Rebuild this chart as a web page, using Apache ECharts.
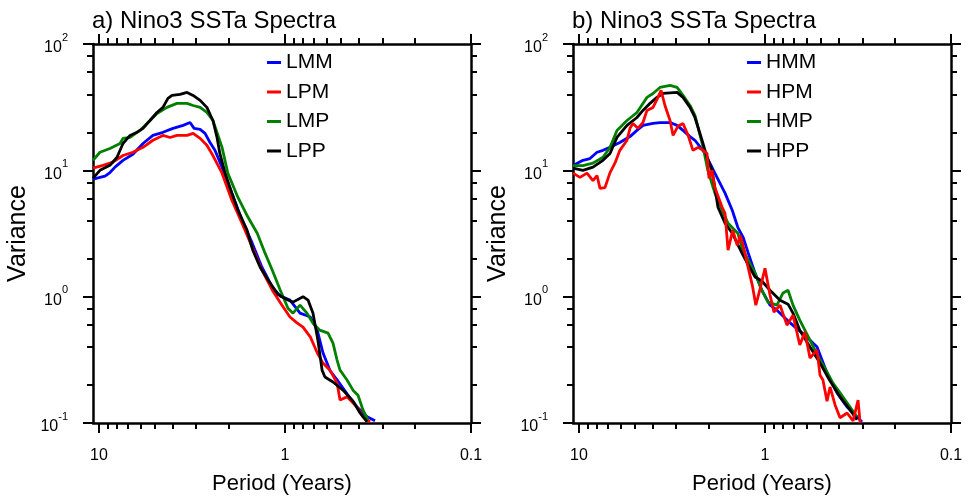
<!DOCTYPE html>
<html><head><meta charset="utf-8">
<script src="https://cdn.jsdelivr.net/npm/echarts@6/dist/echarts.min.js"></script>
<style>html,body{margin:0;padding:0;background:#fff}#c{width:966px;height:497px}</style>
</head><body><div id="c"></div>
<script>
// ---- data: [period (years), variance] ----
const LMM = [[10.77,8.5],[9.88,8.8],[9.28,9.0],[8.73,9.6],[8.2,10.6],[7.43,12.0],[6.57,13.4],[5.8,16.3],[5.13,18.9],[4.53,20.0],[4.0,21.5],[3.53,22.7],[3.24,23.9],[3.08,21.5],[2.86,21.1],[2.69,19.6],[2.53,16.6],[2.38,14.4],[2.18,10.6],[1.93,6.6],[1.7,4.0],[1.5,2.65],[1.33,1.71],[1.17,1.19],[1.06,1.01],[0.94,0.94],[0.83,0.74],[0.73,0.69],[0.67,0.54],[0.625,0.36],[0.573,0.26],[0.525,0.22],[0.464,0.17],[0.41,0.134],[0.362,0.112],[0.328,0.104]];
const LPM = [[10.77,10.4],[9.52,10.95],[8.41,11.6],[7.43,13.1],[6.57,13.9],[5.8,15.2],[5.13,17.3],[4.53,18.9],[4.15,18.2],[3.81,18.9],[3.36,18.9],[3.12,19.6],[2.86,17.9],[2.63,15.8],[2.44,13.1],[2.18,9.5],[1.93,5.8],[1.7,3.8],[1.5,2.46],[1.33,1.62],[1.17,1.125],[1.04,0.86],[0.94,0.69],[0.862,0.62],[0.8,0.574],[0.73,0.478],[0.67,0.358],[0.625,0.298],[0.573,0.262],[0.525,0.207],[0.506,0.152],[0.464,0.161],[0.41,0.134],[0.381,0.112],[0.349,0.102]];
const LMP = [[10.77,12.0],[9.88,13.9],[8.73,14.9],[7.71,16.3],[7.43,17.9],[6.81,18.2],[6.03,20.7],[5.32,24.8],[4.88,28.2],[4.31,31.5],[3.81,33.9],[3.36,33.9],[3.12,32.6],[2.86,31.5],[2.63,28.7],[2.44,24.8],[2.18,15.2],[2.03,9.5],[1.79,6.1],[1.58,4.25],[1.41,3.18],[1.28,2.21],[1.17,1.62],[1.06,1.125],[0.964,0.81],[0.906,0.74],[0.83,0.857],[0.762,0.74],[0.707,0.617],[0.65,0.543],[0.587,0.515],[0.552,0.429],[0.525,0.315],[0.506,0.262],[0.464,0.219],[0.431,0.182],[0.405,0.166],[0.381,0.127],[0.358,0.106]];
const LPP = [[10.77,8.65],[9.88,10.0],[8.73,10.95],[8.0,12.7],[7.43,16.3],[6.81,18.9],[6.25,20.0],[5.8,21.5],[5.32,24.8],[4.88,28.7],[4.53,31.5],[4.26,37.1],[4.05,39.2],[3.67,39.9],[3.36,41.4],[3.12,39.2],[2.86,35.8],[2.63,31.5],[2.44,24.8],[2.32,18.2],[2.24,13.6],[2.1,9.5],[1.93,6.6],[1.79,4.83],[1.6,3.36],[1.49,2.33],[1.36,1.71],[1.23,1.35],[1.09,1.04],[0.964,0.94],[0.906,0.905],[0.8,1.0],[0.752,0.94],[0.707,0.74],[0.665,0.45],[0.632,0.262],[0.61,0.231],[0.552,0.211],[0.488,0.182],[0.431,0.149],[0.395,0.12],[0.362,0.102]];

const HMM = [[10.77,10.9],[9.52,12.0],[8.73,12.4],[8.0,13.9],[7.43,14.4],[6.81,15.2],[6.03,16.6],[5.32,18.5],[4.88,20.7],[4.53,22.7],[4.0,23.5],[3.67,23.9],[3.24,23.9],[2.97,22.7],[2.76,20.7],[2.53,18.5],[2.38,17.3],[2.1,13.6],[1.86,9.5],[1.64,6.6],[1.5,4.83],[1.4,3.54],[1.31,2.95],[1.23,2.21],[1.13,1.53],[1.04,1.125],[0.94,0.857],[0.862,0.782],[0.73,0.617],[0.594,0.478],[0.525,0.399],[0.464,0.249],[0.41,0.173],[0.362,0.134],[0.32,0.112],[0.301,0.102]];
const HPM = [[10.77,9.5],[9.88,8.8],[9.06,9.5],[8.41,8.3],[8.0,9.1],[7.71,7.2],[7.25,7.3],[6.81,9.6],[6.41,11.4],[6.03,14.4],[5.52,17.3],[5.32,21.5],[5.13,23.5],[4.82,21.5],[4.53,23.9],[4.31,29.8],[4.0,31.5],[3.76,37.8],[3.62,42.9],[3.45,32.6],[3.24,24.8],[3.12,18.9],[2.94,22.3],[2.76,23.5],[2.59,18.9],[2.44,14.4],[2.29,15.2],[2.15,14.4],[2.05,13.6],[2.0,8.65],[1.93,10.0],[1.86,7.3],[1.7,5.1],[1.64,4.57],[1.58,2.33],[1.49,3.36],[1.41,2.55],[1.36,3.06],[1.31,2.55],[1.25,1.87],[1.17,1.23],[1.12,0.857],[1.06,1.17],[1.0,1.68],[0.94,1.03],[0.895,0.754],[0.83,0.857],[0.762,0.595],[0.707,0.714],[0.65,0.414],[0.61,0.524],[0.573,0.327],[0.525,0.378],[0.506,0.239],[0.488,0.219],[0.464,0.149],[0.447,0.193],[0.42,0.139],[0.395,0.11],[0.362,0.12],[0.336,0.104],[0.316,0.152],[0.308,0.1]];
const HMP = [[10.77,10.9],[9.52,10.9],[8.41,11.4],[7.43,12.7],[6.81,15.2],[6.25,20.7],[5.52,24.8],[4.88,28.7],[4.31,37.8],[4.0,40.6],[3.67,45.3],[3.24,47.0],[2.97,45.3],[2.76,39.2],[2.53,32.6],[2.38,27.2],[2.29,21.9],[2.15,15.2],[2.03,10.0],[1.86,6.6],[1.7,4.83],[1.58,3.81],[1.4,3.18],[1.33,2.46],[1.23,1.94],[1.13,1.53],[1.04,1.125],[0.964,0.905],[0.862,0.857],[0.8,1.07],[0.752,1.125],[0.707,0.857],[0.65,0.652],[0.573,0.453],[0.506,0.315],[0.464,0.253],[0.431,0.207],[0.395,0.173],[0.349,0.134],[0.32,0.112]];
const HPP = [[10.77,10.4],[9.52,10.0],[8.41,10.6],[7.43,12.0],[6.81,13.6],[6.25,18.2],[5.52,22.7],[4.88,26.2],[4.53,29.8],[4.15,33.9],[3.81,37.8],[3.53,40.6],[2.97,41.4],[2.76,37.8],[2.53,31.5],[2.38,26.2],[2.18,17.3],[2.05,12.7],[1.93,10.0],[1.86,7.3],[1.79,5.1],[1.64,3.81],[1.5,3.18],[1.33,2.21],[1.23,1.78],[1.13,1.43],[1.04,1.33],[0.94,1.125],[0.83,0.938],[0.752,0.872],[0.707,0.741],[0.65,0.543],[0.573,0.399],[0.506,0.298],[0.45,0.219],[0.395,0.161],[0.349,0.127],[0.32,0.106]];

// ---- ticks / labels ----
const xMajor = [10, 1, 0.1];
const xTickLabels = ['10', '1', '0.1'];
const xMinor = [9, 8, 7, 6, 5, 4, 3, 2, 0.9, 0.8, 0.7, 0.6, 0.5, 0.4, 0.3, 0.2];
const yMajor = [0.1, 1, 10, 100];
const yTickExp = ['-1', '0', '1', '2'];
const yMinor = [0.2, 0.4, 0.6, 0.8, 2, 4, 6, 8, 20, 40, 60, 80];
const titles = ['a) Nino3 SSTa Spectra', 'b) Nino3 SSTa Spectra'];
const panelSeries = [
  [['LMM', LMM, '#0000ff'], ['LPM', LPM, '#ff0000'], ['LMP', LMP, '#008000'], ['LPP', LPP, '#000000']],
  [['HMM', HMM, '#0000ff'], ['HMP', HMP, '#008000'], ['HPP', HPP, '#000000'], ['HPM', HPM, '#ff0000']]
];
const legendNames = [['LMM', 'LPM', 'LMP', 'LPP'], ['HMM', 'HPM', 'HMP', 'HPP']];

const FONT = '"Liberation Sans", Arial, Helvetica, sans-serif';
const xMin = 0.1, xMax = 10.77, yMin = 0.1, yMax = 100;
function findIdx(arr, v) { for (let i = 0; i < arr.length; i++) { if (Math.abs(arr[i] - v) <= 1e-6 * arr[i]) return i; } return -1; }

const grids = [{left: 93, top: 44, width: 378, height: 379}, {left: 573, top: 44, width: 378, height: 379}];
const xAxes = [], yAxes = [], series = [], legends = [], titleOpts = [];
const lineCol = '#000';

grids.forEach((g, gi) => {
  const xb = {type: 'log', logBase: 10, inverse: true, min: xMin, max: xMax, gridIndex: gi,
    splitLine: {show: false}, minorTick: {show: false}, minorSplitLine: {show: false}, axisPointer: {show: false}};
  const yb = {type: 'log', logBase: 10, min: yMin, max: yMax, gridIndex: gi,
    splitLine: {show: false}, minorTick: {show: false}, minorSplitLine: {show: false}, axisPointer: {show: false}};
  const major = {show: true, length: 10, inside: false, lineStyle: {color: lineCol, width: 2}};
  const minor = {show: true, length: 6, inside: false, lineStyle: {color: lineCol, width: 2}};
  const xi = xAxes.length;
  xAxes.push(Object.assign({}, xb, {position: 'bottom',
    name: 'Period (Years)', nameLocation: 'middle', nameGap: 50,
    nameTextStyle: {fontSize: 22, color: '#000', fontFamily: FONT},
    axisLine: {show: true, onZero: false, lineStyle: {color: lineCol, width: 2.5}},
    axisTick: Object.assign({customValues: xMajor}, major),
    axisLabel: {show: true, customValues: xMajor, margin: 25, fontSize: 16, color: '#000', fontFamily: FONT,
      formatter: v => { const i = findIdx(xMajor, v); return i < 0 ? '' : xTickLabels[i]; }}}));
  xAxes.push(Object.assign({}, xb, {position: 'bottom', axisLine: {show: false},
    axisTick: Object.assign({customValues: xMinor}, minor), axisLabel: {show: false}}));
  xAxes.push(Object.assign({}, xb, {position: 'top',
    axisLine: {show: true, onZero: false, lineStyle: {color: lineCol, width: 2.5}},
    axisTick: Object.assign({customValues: xMajor}, major), axisLabel: {show: false}}));
  xAxes.push(Object.assign({}, xb, {position: 'top', axisLine: {show: false},
    axisTick: Object.assign({customValues: xMinor}, minor), axisLabel: {show: false}}));

  const yi = yAxes.length;
  yAxes.push(Object.assign({}, yb, {position: 'left',
    name: 'Variance', nameLocation: 'middle', nameGap: 62,
    nameTextStyle: {fontSize: 25, color: '#000', fontFamily: FONT},
    axisLine: {show: true, onZero: false, lineStyle: {color: lineCol, width: 2.5}},
    axisTick: Object.assign({customValues: yMajor}, major),
    axisLabel: {show: true, customValues: yMajor, margin: 25, fontSize: 16, color: '#000', fontFamily: FONT,
      formatter: v => { const i = findIdx(yMajor, v); return i < 0 ? '' : '{b|10}{s|' + yTickExp[i] + '}'; },
      rich: {
        b: {fontSize: 16, fontFamily: FONT, color: '#000', lineHeight: 24, verticalAlign: 'bottom'},
        s: {fontSize: 11, fontFamily: FONT, color: '#000', lineHeight: 13, verticalAlign: 'top'}
      }}}));
  yAxes.push(Object.assign({}, yb, {position: 'left', axisLine: {show: false},
    axisTick: Object.assign({customValues: yMinor}, minor), axisLabel: {show: false}}));
  yAxes.push(Object.assign({}, yb, {position: 'right',
    axisLine: {show: true, onZero: false, lineStyle: {color: lineCol, width: 2.5}},
    axisTick: Object.assign({customValues: yMajor}, major), axisLabel: {show: false}}));
  yAxes.push(Object.assign({}, yb, {position: 'right', axisLine: {show: false},
    axisTick: Object.assign({customValues: yMinor}, minor), axisLabel: {show: false}}));

  panelSeries[gi].forEach(([name, data, color]) => {
    series.push({type: 'line', name: name, xAxisIndex: xi, yAxisIndex: yi, data: data,
      symbol: 'none', showSymbol: false, smooth: false, clip: true, animation: false,
      lineStyle: {color: color, width: 2.8}, itemStyle: {color: color}, z: 3});
  });

  legends.push({show: true, orient: 'vertical', left: g.left + 174, top: 52, padding: 0, data: legendNames[gi],
    itemWidth: 14, itemHeight: 3, itemGap: 8.5, icon: 'rect', selectedMode: false,
    textStyle: {fontSize: 21, color: '#000', fontFamily: FONT, lineHeight: 21},
    itemStyle: {borderWidth: 0}});

  titleOpts.push({text: titles[gi], left: g.left - 1, top: 9, padding: 0,
    textStyle: {fontSize: 24, fontWeight: 'normal', color: '#000', fontFamily: FONT}});
});

const chart = echarts.init(document.getElementById('c'), null, {renderer: 'canvas'});
chart.setOption({
  animation: false,
  backgroundColor: '#fff',
  title: titleOpts,
  legend: legends,
  grid: grids.map(g => Object.assign({containLabel: false, outerBoundsMode: 'none'}, g)),
  xAxis: xAxes,
  yAxis: yAxes,
  series: series
});
</script></body></html>
